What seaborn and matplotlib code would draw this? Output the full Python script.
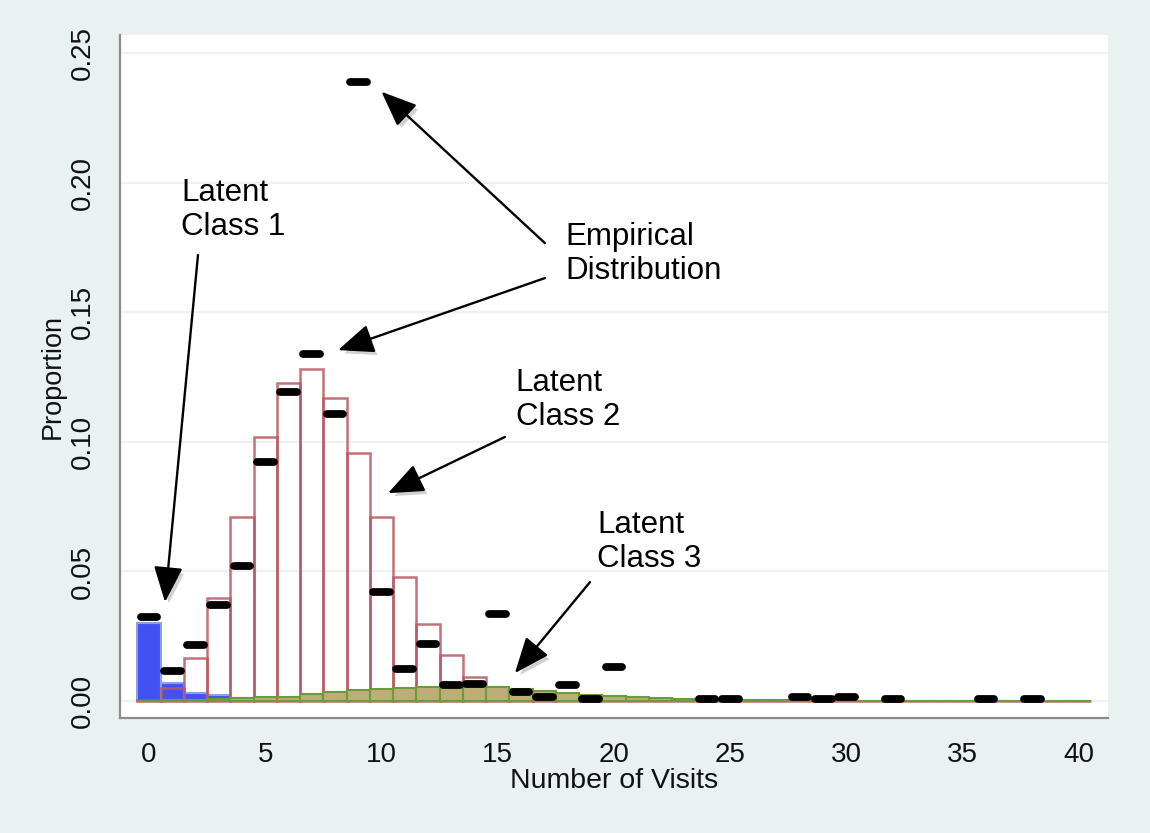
import numpy as np
import pandas as pd
import matplotlib
matplotlib.use("Agg")
import matplotlib.pyplot as plt
import matplotlib.patheffects as pe
import seaborn as sns

# ---------------- data ----------------
visits = list(range(0, 41))

class1_prop = [0.0300, 0.0068, 0.0030, 0.0022, 0.0012, 0.0005, 0.0002, 0.0001] + [0.0] * 33

class2_prop = [0.0005, 0.0050, 0.0167, 0.0399, 0.0709, 0.1020, 0.1228, 0.1280,
               0.1168, 0.0958, 0.0709, 0.0480, 0.0299, 0.0176, 0.0093, 0.0045,
               0.0020, 0.0008, 0.0003] + [0.0] * 22

class3_prop = [0.0002, 0.0003, 0.0005, 0.0007, 0.0010, 0.0015, 0.0017, 0.0026,
               0.0034, 0.0041, 0.0047, 0.0052, 0.0056, 0.0058, 0.0058, 0.0055,
               0.0045, 0.0038, 0.0030, 0.0022, 0.0018, 0.0015, 0.0011, 0.0009,
               0.0007, 0.0005, 0.0004, 0.0003, 0.0003, 0.0002, 0.0002, 0.0001,
               0.0001, 0.0001, 0.0001, 0.0001, 0.0001, 0.0001, 0.0001, 0.0001, 0.0001]

emp_visits = [0, 1, 2, 3, 4, 5, 6, 7, 8, 9, 10, 11, 12, 13, 14, 15, 16, 17, 18, 19, 20,
              24, 25, 28, 29, 30, 32, 36, 38]
emp_prop = [0.0325, 0.0116, 0.0218, 0.0372, 0.0520, 0.0923, 0.1193, 0.1338, 0.1107,
            0.2388, 0.0419, 0.0122, 0.0222, 0.0061, 0.0067, 0.0337, 0.0036, 0.0014,
            0.0061, 0.0007, 0.0130, 0.0006, 0.0006, 0.0014, 0.0007, 0.0014, 0.0007,
            0.0006, 0.0006]

yticks = [0.00, 0.05, 0.10, 0.15, 0.20, 0.25]
ytick_labels = ["0.00", "0.05", "0.10", "0.15", "0.20", "0.25"]
xticks = [0, 5, 10, 15, 20, 25, 30, 35, 40]
xtick_labels = ["0", "5", "10", "15", "20", "25", "30", "35", "40"]

# ---------------- style ----------------
sns.set_style("white")
plt.rcParams["font.family"] = ["Liberation Sans", "DejaVu Sans"]

BG = "#E9F1F1"
fig = plt.figure(figsize=(11.5, 8.33), dpi=100, facecolor=BG)
ax = fig.add_axes([0.1043, 0.138, 0.8592, 0.82])
ax.set_facecolor("white")

df = pd.DataFrame({"visits": visits, "c1": class1_prop, "c2": class2_prop, "c3": class3_prop})

# Latent class 1 (blue)
sns.histplot(data=df, x="visits", weights="c1", discrete=True, ax=ax,
             color="#4252F2", edgecolor="#86A4E4", linewidth=1.5, alpha=1, zorder=2)
# Latent class 2 (outline)
sns.histplot(data=df, x="visits", weights="c2", discrete=True, ax=ax,
             fill=False, color="#B9585F", linewidth=1.8, alpha=0.85, zorder=3)
# Latent class 3 (khaki)
sns.histplot(data=df, x="visits", weights="c3", discrete=True, ax=ax,
             color="#BFAD78", edgecolor="#6E9A3E", linewidth=1.5, alpha=1, zorder=4)

# Empirical distribution dashes
emp_x = np.array(emp_visits, dtype=float)
ax.hlines(emp_prop, emp_x - 0.36, emp_x + 0.36, colors="black", linewidth=5.6,
          capstyle="round", zorder=6)

# ---------------- axes ----------------
ax.set_xlim(-1.247, 41.25)
ax.set_ylim(-0.00656, 0.257)
ax.set_xticks(xticks)
ax.set_xticklabels(xtick_labels)
ax.set_yticks(yticks)
ax.set_yticklabels(ytick_labels, rotation=90, va="center")
ax.yaxis.grid(True, color="#EDF3F3", linewidth=1.6, zorder=0)
ax.xaxis.grid(False)
ax.set_axisbelow(True)

for s in ["top", "right"]:
    ax.spines[s].set_visible(False)
for s in ["left", "bottom"]:
    ax.spines[s].set_color("#8C8C8C")
    ax.spines[s].set_linewidth(1.6)

ax.tick_params(axis="both", which="major", length=8.5, width=1.5, color="#8C8C8C",
               labelsize=20, labelcolor="#111111", pad=9, direction="out")
ax.set_xlabel("Number of Visits", fontsize=20.5, labelpad=0, color="#111111")
ax.set_ylabel("Proportion", fontsize=19.5, labelpad=3, color="#111111")

# ---------------- annotations ----------------
tfont = dict(fontsize=22.5, color="black", ha="left", va="top", linespacing=1.17, zorder=8)
ax.text(1.38, 0.2018, "Latent\nClass 1", **tfont)
ax.text(17.89, 0.1848, "Empirical\nDistribution", **tfont)
ax.text(15.78, 0.1285, "Latent\nClass 2", **tfont)
ax.text(19.27, 0.0737, "Latent\nClass 3", **tfont)

arrow = dict(arrowstyle="-|>,head_length=1.1,head_width=0.45", color="black",
             lw=1.7, mutation_scale=20, shrinkA=0, shrinkB=0)
arrows = [((2.11, 0.1721), (0.69, 0.0382)),
          ((17.03, 0.1767), (10.0, 0.2351)),
          ((17.03, 0.1632), (8.13, 0.1354)),
          ((15.31, 0.1019), (10.28, 0.0802)),
          ((18.97, 0.0459), (15.74, 0.0108))]
for start, end in arrows:
    ann = ax.annotate("", xy=end, xytext=start, arrowprops=arrow, zorder=9)
    ann.arrow_patch.set_path_effects([
        pe.SimplePatchShadow(offset=(2.5, -3), shadow_rgbFace="#000000", alpha=0.18),
        pe.Normal()])

fig.savefig("out.png", dpi=100, facecolor=BG)
